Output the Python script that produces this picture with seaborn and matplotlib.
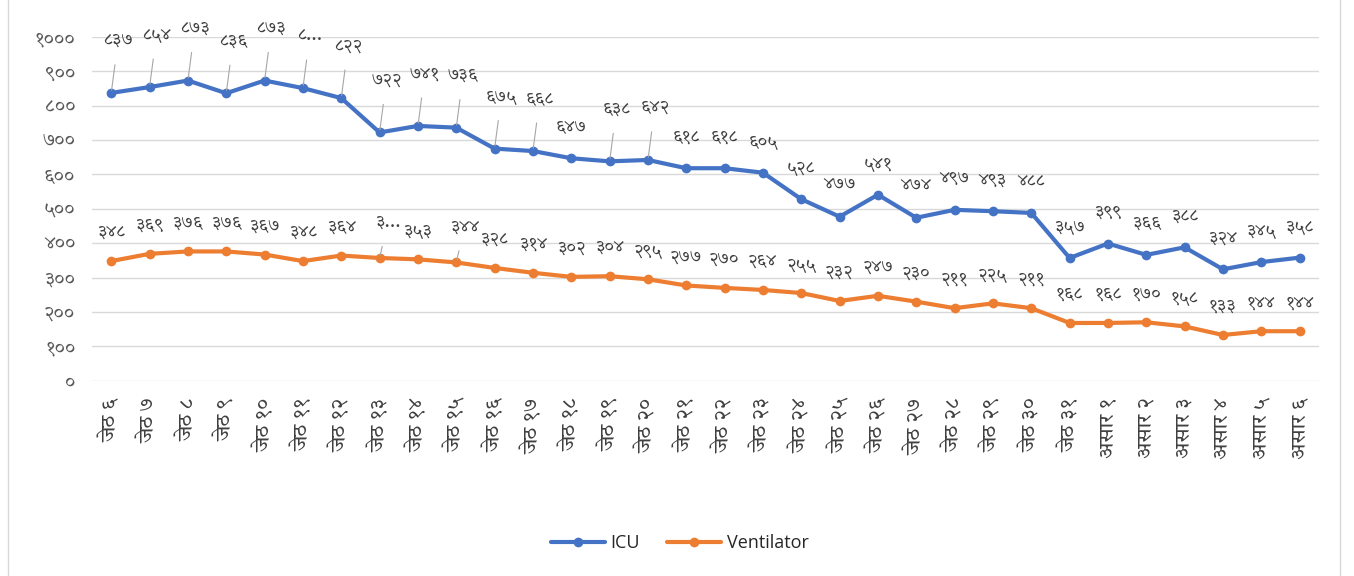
import seaborn as sns
import pandas as pd
import matplotlib
matplotlib.use("Agg")
from matplotlib import pyplot as plt
from matplotlib import font_manager
from matplotlib.ft2font import FT2Font
from matplotlib.patches import Rectangle

# data
days = ["जेठ ६", "जेठ ७", "जेठ ८", "जेठ ९", "जेठ १०", "जेठ ११", "जेठ १२", "जेठ १३",
        "जेठ १४", "जेठ १५", "जेठ १६", "जेठ १७", "जेठ १८", "जेठ १९", "जेठ २०", "जेठ २१",
        "जेठ २२", "जेठ २३", "जेठ २४", "जेठ २५", "जेठ २६", "जेठ २७", "जेठ २८", "जेठ २९",
        "जेठ ३०", "जेठ ३१", "असार १", "असार २", "असार ३", "असार ४", "असार ५", "असार ६"]
icu = [837, 854, 873, 836, 873, 851, 822, 722, 741, 736, 675, 668, 647, 638, 642, 618,
       618, 605, 528, 477, 541, 474, 497, 493, 488, 357, 399, 366, 388, 324, 345, 358]
ventilator = [348, 369, 376, 376, 367, 348, 364, 357, 353, 344, 328, 314, 302, 304, 295, 277,
              270, 264, 255, 232, 247, 230, 211, 225, 211, 168, 168, 170, 158, 133, 144, 144]
# labels that Excel truncated
icu_trunc = {5: "८..."}
vent_trunc = {7: "३..."}
y_ticks = [0, 100, 200, 300, 400, 500, 600, 700, 800, 900, 1000]

# labels that were dragged up with a leader line
icu_leader = {0, 1, 2, 3, 4, 5, 6, 7, 8, 9, 10, 11, 13, 14}
vent_leader = {7, 9}

DEV = str.maketrans("0123456789", "०१२३४५६७८९")


def dev(n):
    return str(n).translate(DEV)


# pick a proportional font that has Devanagari glyphs
def find_deva():
    found = []
    for f in font_manager.fontManager.ttflist:
        try:
            if 0x0966 in FT2Font(f.fname).get_charmap():
                found.append(f.name)
        except Exception:
            pass

    def rank(name):
        n = name.lower()
        if "mono" in n:
            return 9
        if "devanagari" in n and "ui" not in n:
            return 0
        if "devanagari" in n:
            return 1
        if "freesans" in n:
            return 2
        if "lohit" in n or "mukta" in n or "mangal" in n:
            return 3
        if "freeserif" in n:
            return 5
        return 4

    found = sorted(set(found), key=rank)
    return found[0] if found else None


sns.set_style("white")
deva = find_deva()
fams = ([deva] if deva else []) + ["DejaVu Sans"]
plt.rcParams["font.family"] = fams

df = pd.DataFrame({
    "x": list(range(len(days))) * 2,
    "value": icu + ventilator,
    "series": ["ICU"] * len(days) + ["Ventilator"] * len(days),
})

fig = plt.figure(figsize=(13.54, 5.76), dpi=100)
ax = fig.add_axes([0.068, 0.339, 0.906, 0.597])
sns.lineplot(data=df, x="x", y="value", hue="series",
             palette={"ICU": "#4472C4", "Ventilator": "#ED7D31"},
             marker="o", markersize=7, markeredgewidth=0, linewidth=3, ax=ax)

ax.set_xlim(-0.5, len(days) - 0.5)
ax.set_ylim(0, 1000)
ax.set_yticks(y_ticks)
ax.set_yticklabels([dev(t) for t in y_ticks], fontsize=14, color="#595959")
ax.set_xticks(range(len(days)))
ax.set_xticklabels(days, rotation=90, fontsize=15, color="#404040")
ax.tick_params(axis="y", length=0, pad=12)
ax.tick_params(axis="x", length=0, pad=12)
ax.grid(axis="y", color="#D9D9D9", linewidth=1)
for s in ax.spines.values():
    s.set_visible(False)
ax.set_xlabel("")
ax.set_ylabel("")

lead = dict(arrowstyle="-", color="#A6A6A6", lw=0.8, shrinkA=9, shrinkB=2)

# data labels
for i, v in enumerate(icu):
    txt = icu_trunc.get(i, dev(v))
    if i in icu_leader:
        ax.annotate(txt, (i, v), xytext=(5, 38), textcoords="offset points",
                    ha="center", va="center", fontsize=13, color="#404040",
                    annotation_clip=False, arrowprops=lead)
    else:
        ax.annotate(txt, (i, v), xytext=(0, 23), textcoords="offset points",
                    ha="center", va="center", fontsize=13, color="#404040",
                    annotation_clip=False)
for i, v in enumerate(ventilator):
    txt = vent_trunc.get(i, dev(v))
    if i in vent_leader:
        ax.annotate(txt, (i, v), xytext=(6, 26), textcoords="offset points",
                    ha="center", va="center", fontsize=13, color="#404040",
                    annotation_clip=False, arrowprops=lead)
    else:
        ax.annotate(txt, (i, v), xytext=(0, 21), textcoords="offset points",
                    ha="center", va="center", fontsize=13, color="#404040",
                    annotation_clip=False)

handles, labels = ax.get_legend_handles_labels()
ax.legend_.remove()
fig.legend(handles, labels, loc="center", bbox_to_anchor=(0.502, 0.057), ncol=2,
           frameon=False, handlelength=3, columnspacing=1.5, handletextpad=0.3,
           prop={"family": ["Open Sans", "DejaVu Sans"], "size": 13})

fig.patches.append(Rectangle((0.006, -0.01), 0.984, 1.02, transform=fig.transFigure,
                             fill=False, edgecolor="#D9D9D9", linewidth=1))

fig.savefig("out.png", dpi=100)
